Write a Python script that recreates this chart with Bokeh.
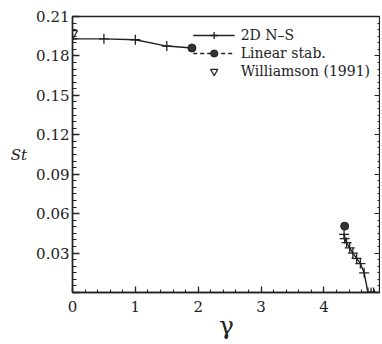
from bokeh.plotting import figure
from bokeh.models import (Range1d, LinearAxis, SingleIntervalTicker, Legend, LegendItem,
                          CustomJSTickFormatter)
from bokeh.embed import file_html
from bokeh.resources import INLINE

# ---- data ----
gamma_ns_upper = [0.0, 0.5, 1.0, 1.5, 1.9]
st_ns_upper = [0.193, 0.193, 0.1923, 0.1875, 0.186]

gamma_ns_lower = [4.32, 4.33, 4.36, 4.41, 4.46, 4.52, 4.58, 4.64, 4.70, 4.75, 4.79]
st_ns_lower = [0.0442, 0.041, 0.038, 0.034, 0.030, 0.026, 0.022, 0.015, 0.0, 0.0, 0.0]

gamma_lin = [1.9, float("nan"), 4.33]
st_lin = [0.186, float("nan"), 0.0505]

gamma_will = [0.0]
st_will = [0.197]

x_tick_step = 1
y_tick_step = 0.03

legend_labels = ["2D N\u2013S", "Linear stab.", "Williamson (1991)"]

FONT = "DejaVu Serif"
INK = "#222222"

p = figure(width=380, height=342, x_range=Range1d(0, 4.9), y_range=Range1d(0, 0.21),
           output_backend="svg", toolbar_location=None,
           min_border_left=72, min_border_right=0, min_border_top=16, min_border_bottom=50)
p.xgrid.visible = False
p.ygrid.visible = False
p.outline_line_color = INK
p.outline_line_width = 1.3
p.background_fill_color = "white"

# axes
xa = p.xaxis[0]
xa.ticker = SingleIntervalTicker(interval=x_tick_step, num_minor_ticks=5)
xa.axis_label = "\u03b3"
xa.axis_label_text_font = FONT
xa.axis_label_text_font_style = "normal"
xa.axis_label_text_font_size = "25px"
xa.axis_label_standoff = -4
ya = p.yaxis[0]
ya.ticker = SingleIntervalTicker(interval=y_tick_step, num_minor_ticks=6)
ya.major_label_overrides = {0: ""}
ya.axis_label = "St"
ya.axis_label_orientation = "horizontal"
ya.axis_label_text_font = FONT
ya.axis_label_text_font_style = "italic"
ya.axis_label_text_font_size = "15px"
ya.axis_label_standoff = 6
for ax, mj, mn in ((xa, 6, 3), (ya, 7, 4)):
    ax.major_tick_in = mj
    ax.major_tick_out = 0
    ax.minor_tick_in = mn
    ax.minor_tick_out = 0
    ax.axis_line_color = INK
    ax.axis_line_width = 1.5
    ax.major_tick_line_color = INK
    ax.minor_tick_line_color = INK
    ax.major_tick_line_width = 1.3
    ax.minor_tick_line_width = 1.1
    ax.major_label_text_font = FONT
    ax.major_label_text_font_size = "15px"
    ax.major_label_text_color = INK
    ax.axis_label_text_color = INK
xa.major_label_standoff = 8
ya.major_label_standoff = 3

ra = LinearAxis(ticker=SingleIntervalTicker(interval=y_tick_step, num_minor_ticks=6),
                formatter=CustomJSTickFormatter(code="return ''"),
                major_label_text_font_size="0px",
                major_tick_in=6, major_tick_out=0,
                minor_tick_in=3, minor_tick_out=0, axis_line_color=INK,
                major_tick_line_color=INK, minor_tick_line_color=INK,
                major_label_standoff=0, axis_label_standoff=0)
p.add_layout(ra, "right")

# data
l1 = p.line(gamma_ns_upper, st_ns_upper, line_color=INK, line_width=1.4)
l2 = p.line(gamma_ns_lower, st_ns_lower, line_color=INK, line_width=1.4)
s1 = p.scatter(gamma_ns_upper[:-1], st_ns_upper[:-1], marker="cross", size=10,
               line_color=INK, line_width=1.3)
s2 = p.scatter(gamma_ns_lower, st_ns_lower, marker="cross", size=10,
               line_color=INK, line_width=1.3)
ld = p.line(gamma_lin, st_lin, line_color=INK, line_width=1.4, line_dash="4 3")
c1 = p.scatter(gamma_lin, st_lin, marker="circle", size=8, fill_color="#333333",
               line_color=INK)
t1 = p.scatter(gamma_will, st_will, marker="inverted_triangle", size=10,
               fill_color=None, line_color=INK, line_width=1.2)

legend = Legend(items=[
    LegendItem(label=legend_labels[0], renderers=[l1, s1]),
    LegendItem(label=legend_labels[1], renderers=[ld, c1]),
    LegendItem(label=legend_labels[2], renderers=[t1]),
], location="top_right", label_text_font=FONT, label_text_font_size="14px",
    label_text_color=INK, background_fill_alpha=0, border_line_alpha=0,
    glyph_width=42, glyph_height=18, label_height=18, spacing=0, padding=2,
    margin=8, label_standoff=6)
p.add_layout(legend)

open("out.html", "w").write(file_html(p, INLINE))
